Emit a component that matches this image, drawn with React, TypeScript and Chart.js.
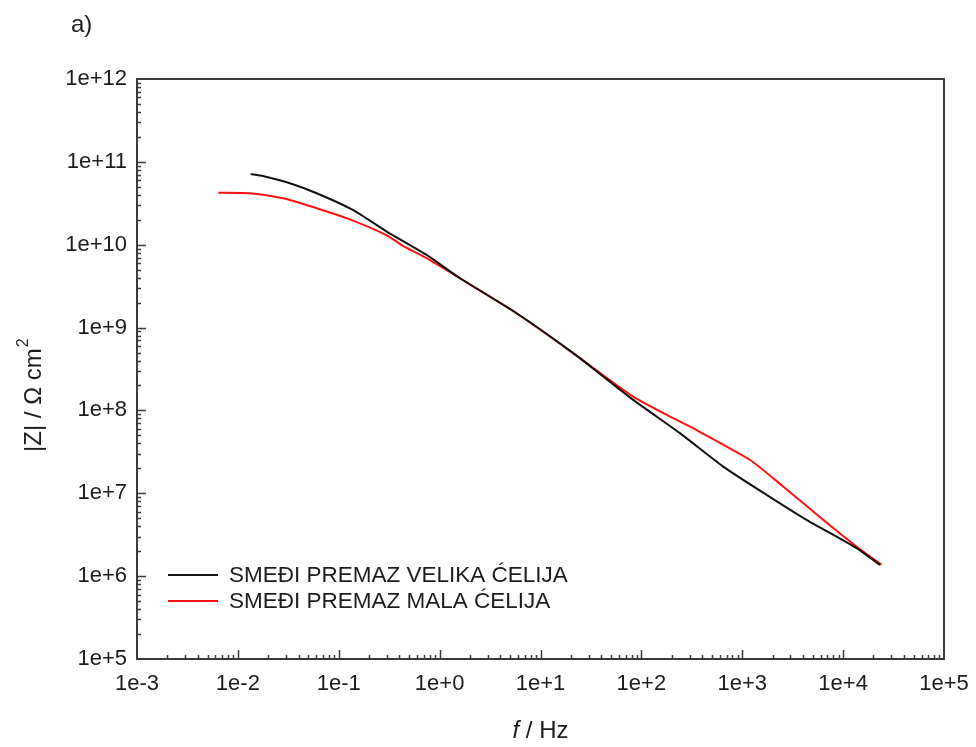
import React, { useEffect, useRef } from "react";
import { Chart, registerables } from "chart.js";

Chart.register(...registerables);

// ---- data ----
const seriesNames = ["SMEĐI PREMAZ VELIKA ĆELIJA", "SMEĐI PREMAZ MALA ĆELIJA"];
const seriesColors = ["#111111", "#ff1010"];

const freqVelika = [0.0134, 0.0177, 0.0328, 0.0604, 0.138, 0.299, 0.743, 1.59, 5.79, 21.1, 83.0, 241, 647, 1742, 4335, 13580, 23100];
const zVelika = [7.14e10, 6.76e10, 5.52e10, 4.18e10, 2.63e10, 1.44e10, 7.54e9, 3.94e9, 1.49e9, 4.91e8, 1.34e8, 5.32e7, 2.1e7, 9.59e6, 4.79e6, 2.18e6, 1.37e6];

const freqMala = [0.0064, 0.0132, 0.0282, 0.0604, 0.12, 0.3, 0.42, 0.743, 1.59, 5.79, 21.1, 83.0, 207, 303, 1189, 2543, 6339, 13580, 24040];
const zMala = [4.25e10, 4.18e10, 3.64e10, 2.76e10, 2.09e10, 1.3e10, 9.9e9, 6.88e9, 3.94e9, 1.49e9, 4.91e8, 1.47e8, 8.07e7, 6.4e7, 2.54e7, 1.21e7, 4.79e6, 2.28e6, 1.37e6];

const xTickValues = [1e-3, 1e-2, 1e-1, 1e0, 1e1, 1e2, 1e3, 1e4, 1e5];
const xTickLabels = ["1e-3", "1e-2", "1e-1", "1e+0", "1e+1", "1e+2", "1e+3", "1e+4", "1e+5"];
const yTickValues = [1e5, 1e6, 1e7, 1e8, 1e9, 1e10, 1e11, 1e12];
const yTickLabels = ["1e+5", "1e+6", "1e+7", "1e+8", "1e+9", "1e+10", "1e+11", "1e+12"];

const panelLabel = "a)";
const xTitleItalic = "f";
const xTitleRest = " / Hz";
const yTitleMain = "|Z| / Ω cm";
const yTitleSup = "2";

const FONT = "'Liberation Sans', Arial, sans-serif";
const TEXT = "#1c1c1c";
const AXIS = "#3a3a3a";

function labelFor(values: number[], labels: string[], v: number) {
  const i = values.findIndex((t) => Math.abs(Math.log10(t) - Math.log10(v)) < 1e-6);
  return i >= 0 ? labels[i] : "";
}

const decorPlugin = {
  id: "decor",
  afterDraw(chart: any) {
    const ctx = chart.ctx as CanvasRenderingContext2D;
    const { left, right, top, bottom } = chart.chartArea;
    const xs = chart.scales.x;
    const ys = chart.scales.y;
    ctx.save();
    // frame
    ctx.strokeStyle = AXIS;
    ctx.lineWidth = 2;
    ctx.strokeRect(left, top, right - left, bottom - top);
    // inward ticks
    ctx.lineWidth = 1.5;
    ctx.beginPath();
    for (let d = -3; d < 5; d++) {
      for (let k = 1; k <= 9; k++) {
        if (k === 1 && d === -3) continue;
        const v = k * Math.pow(10, d);
        const px = Math.round(xs.getPixelForValue(v)) + 0.5;
        const len = k === 1 ? 9 : 4;
        ctx.moveTo(px, bottom);
        ctx.lineTo(px, bottom - len);
      }
    }
    for (let d = 5; d < 12; d++) {
      for (let k = 1; k <= 9; k++) {
        if (k === 1 && d === 5) continue;
        const v = k * Math.pow(10, d);
        const py = Math.round(ys.getPixelForValue(v)) + 0.5;
        const len = k === 1 ? 9 : 4;
        ctx.moveTo(left, py);
        ctx.lineTo(left + len, py);
      }
    }
    ctx.stroke();

    // legend
    const lx0 = 168, lx1 = 218, tx = 229;
    const rows = [575, 601];
    ctx.font = `22.5px ${FONT}`;
    ctx.textBaseline = "middle";
    ctx.textAlign = "left";
    chart.data.datasets.forEach((ds: any, i: number) => {
      ctx.strokeStyle = ds.borderColor;
      ctx.lineWidth = 2;
      ctx.beginPath();
      ctx.moveTo(lx0, rows[i]);
      ctx.lineTo(lx1, rows[i]);
      ctx.stroke();
      ctx.fillStyle = TEXT;
      ctx.fillText(ds.label, tx, rows[i] + 1);
    });

    // panel label
    ctx.font = `24px ${FONT}`;
    ctx.fillStyle = TEXT;
    ctx.textAlign = "left";
    ctx.fillText(panelLabel, 71, 25);

    // x title
    const cx = (left + right) / 2;
    ctx.font = `italic 24px ${FONT}`;
    const w1 = ctx.measureText(xTitleItalic).width;
    ctx.font = `24px ${FONT}`;
    const w2 = ctx.measureText(xTitleRest).width;
    const sx = cx - (w1 + w2) / 2;
    ctx.font = `italic 24px ${FONT}`;
    ctx.fillText(xTitleItalic, sx, 731);
    ctx.font = `24px ${FONT}`;
    ctx.fillText(xTitleRest, sx + w1, 731);

    // y title
    ctx.translate(34, 452);
    ctx.rotate(-Math.PI / 2);
    ctx.font = `24px ${FONT}`;
    ctx.textAlign = "left";
    ctx.fillText(yTitleMain, 0, 0);
    const wm = ctx.measureText(yTitleMain).width;
    ctx.font = `16px ${FONT}`;
    ctx.fillText(yTitleSup, wm + 1, -10);
    ctx.restore();
  },
};

export default function App() {
  const ref = useRef<HTMLCanvasElement | null>(null);
  useEffect(() => {
    if (!ref.current) return;
    const chart = new Chart(ref.current, {
      type: "line",
      data: {
        datasets: [
          {
            label: seriesNames[0],
            data: freqVelika.map((f, i) => ({ x: f, y: zVelika[i] })),
            borderColor: seriesColors[0],
            borderWidth: 2,
            pointRadius: 0,
            tension: 0.2,
            fill: false,
          },
          {
            label: seriesNames[1],
            data: freqMala.map((f, i) => ({ x: f, y: zMala[i] })),
            borderColor: seriesColors[1],
            borderWidth: 2,
            pointRadius: 0,
            tension: 0.2,
            fill: false,
          },
        ],
      },
      options: {
        animation: false,
        responsive: false,
        maintainAspectRatio: false,
        layout: { padding: { top: 79, right: 32, left: 0, bottom: 0 } },
        plugins: { legend: { display: false }, tooltip: { enabled: false } },
        scales: {
          x: {
            type: "logarithmic",
            min: 1e-3,
            max: 1e5,
            afterBuildTicks: (s: any) => {
              s.ticks = xTickValues.map((v) => ({ value: v, major: true }));
            },
            afterFit: (s: any) => {
              s.height = 88;
              s.paddingLeft = 0;
              s.paddingRight = 0;
            },
            ticks: {
              autoSkip: false,
              maxRotation: 0,
              padding: 12,
              color: TEXT,
              font: { family: FONT, size: 22 },
              callback: (v: any) => labelFor(xTickValues, xTickLabels, Number(v)),
            },
            grid: { display: false, drawTicks: false },
            border: { display: false },
          },
          y: {
            type: "logarithmic",
            min: 1e5,
            max: 1e12,
            afterBuildTicks: (s: any) => {
              s.ticks = yTickValues.map((v) => ({ value: v, major: true }));
            },
            afterFit: (s: any) => {
              s.width = 137;
              s.paddingTop = 0;
              s.paddingBottom = 0;
            },
            ticks: {
              autoSkip: false,
              padding: 10,
              color: TEXT,
              font: { family: FONT, size: 22 },
              callback: (v: any) => labelFor(yTickValues, yTickLabels, Number(v)),
            },
            grid: { display: false, drawTicks: false },
            border: { display: false },
          },
        },
      },
      plugins: [decorPlugin],
    } as any);
    return () => chart.destroy();
  }, []);
  return (
    <div style={{ position: "absolute", left: 0, top: 0, width: 976, height: 747, background: "#fff" }}>
      <canvas ref={ref} width={976} height={747} style={{ display: "block" }} />
    </div>
  );
}
